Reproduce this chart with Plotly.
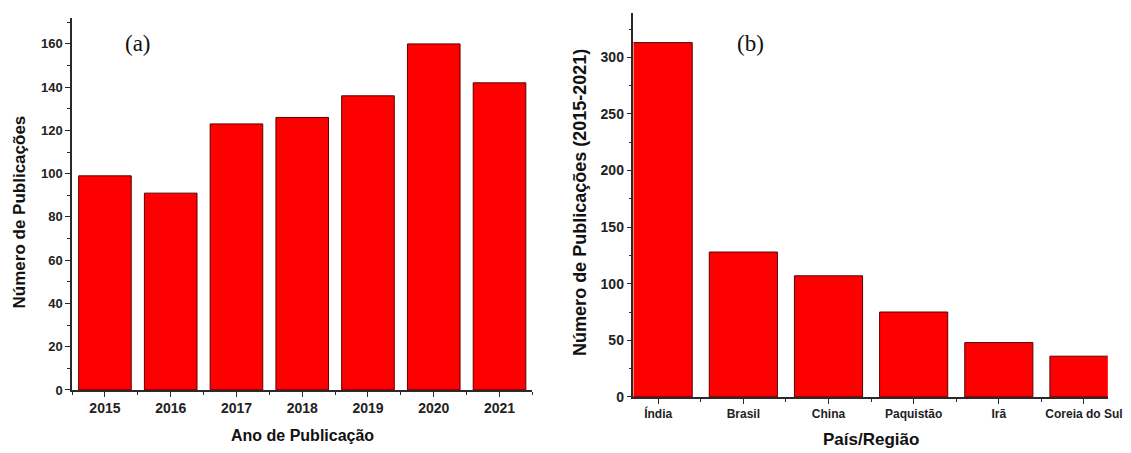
import plotly.graph_objects as go

# (a) publications per year
anos = ["2015", "2016", "2017", "2018", "2019", "2020", "2021"]
pubs_ano = [99, 91, 123, 126, 136, 160, 142]

# (b) publications per country/region, 2015-2021
paises = ["Índia", "Brasil", "China", "Paquistão", "Irã", "Coreia do Sul"]
pubs_pais = [313, 128, 107, 75, 48, 36]

W, H = 1131, 453
# pixel -> layout fractions (slight compensation for page scaling)
KX, KY = 0.986, 0.985


def fx(px):
    return px / KX / W


def fy(py):
    return 1 - py / KY / H


BAR = "#ff0000"
EDGE = "#5a0000"
AX = "#2a2a2a"
FONT = "Liberation Sans, Arial, sans-serif"

fig = go.Figure()
fig.add_trace(go.Bar(x=list(range(len(anos))), y=pubs_ano, width=0.8,
                     marker=dict(color=BAR, line=dict(color=EDGE, width=1)),
                     xaxis="x", yaxis="y", showlegend=False, cliponaxis=True))
fig.add_trace(go.Bar(x=list(range(len(paises))), y=pubs_pais, width=0.8,
                     marker=dict(color=BAR, line=dict(color=EDGE, width=1)),
                     xaxis="x2", yaxis="y2", showlegend=False, cliponaxis=True))


def tf(size):
    return dict(family=FONT, size=size, color="#222222", weight="bold")


common = dict(showline=True, linecolor=AX, linewidth=1.5, ticks="outside",
              tickcolor=AX, tickwidth=1.3, ticklen=5, showgrid=False,
              zeroline=False, ticklabeloverflow="allow")
minor_x = dict(tick0=0.5, dtick=1, ticklen=3, tickcolor=AX, ticks="outside")

fig.update_layout(
    width=W, height=H, margin=dict(l=0, r=0, t=0, b=0),
    paper_bgcolor="white", plot_bgcolor="white", bargap=0.2,
    xaxis=dict(domain=[fx(72), fx(532)], range=[-0.5, 6.5],
               tickvals=list(range(len(anos))), ticktext=anos, tickfont=tf(14),
               minor=minor_x, anchor="y", **common),
    yaxis=dict(domain=[fy(391), fy(18)], range=[0, 172],
               tick0=0, dtick=20, tickfont=tf(13),
               minor=dict(tick0=0, dtick=10, ticklen=3, tickcolor=AX, ticks="outside"),
               anchor="x", **common),
    xaxis2=dict(domain=[fx(633), fx(1107)], range=[-0.29, 5.28],
                tickvals=list(range(len(paises))), ticktext=paises, tickfont=tf(12),
                minor=minor_x, anchor="y2", **common),
    yaxis2=dict(domain=[fy(398), fy(13)], range=[0, 339.2],
                tick0=0, dtick=50, tickfont=tf(14),
                minor=dict(tick0=0, dtick=25, ticklen=3, tickcolor=AX, ticks="outside"),
                anchor="x2", **common),
)


def title_font(size):
    return dict(family=FONT, size=size, color="#111111", weight="bold")


panel_font = dict(family="Liberation Serif, Times New Roman, serif", size=23, color="#111111")

annotations = [
    dict(text="Número de Publicações", x=fx(19), y=fy(213), textangle=-90,
         font=title_font(17), yanchor="middle"),
    dict(text="Ano de Publicação", x=fx(302), y=fy(437), font=title_font(16), yanchor="middle"),
    dict(text="Número de Publicações (2015-2021)", x=fx(580), y=fy(203), textangle=-90,
         font=title_font(18), yanchor="middle"),
    dict(text="País/Região", x=fx(870), y=0, font=title_font(17), yanchor="bottom",
         borderpad=0, yshift=-5),
    dict(text="(a)", x=fx(138), y=fy(44), font=panel_font, yanchor="middle"),
    dict(text="(b)", x=fx(750), y=fy(44), font=panel_font, yanchor="middle"),
]
for a in annotations:
    fig.add_annotation(xref="paper", yref="paper", showarrow=False,
                       xanchor="center", **a)

fig.write_html("out.html")
